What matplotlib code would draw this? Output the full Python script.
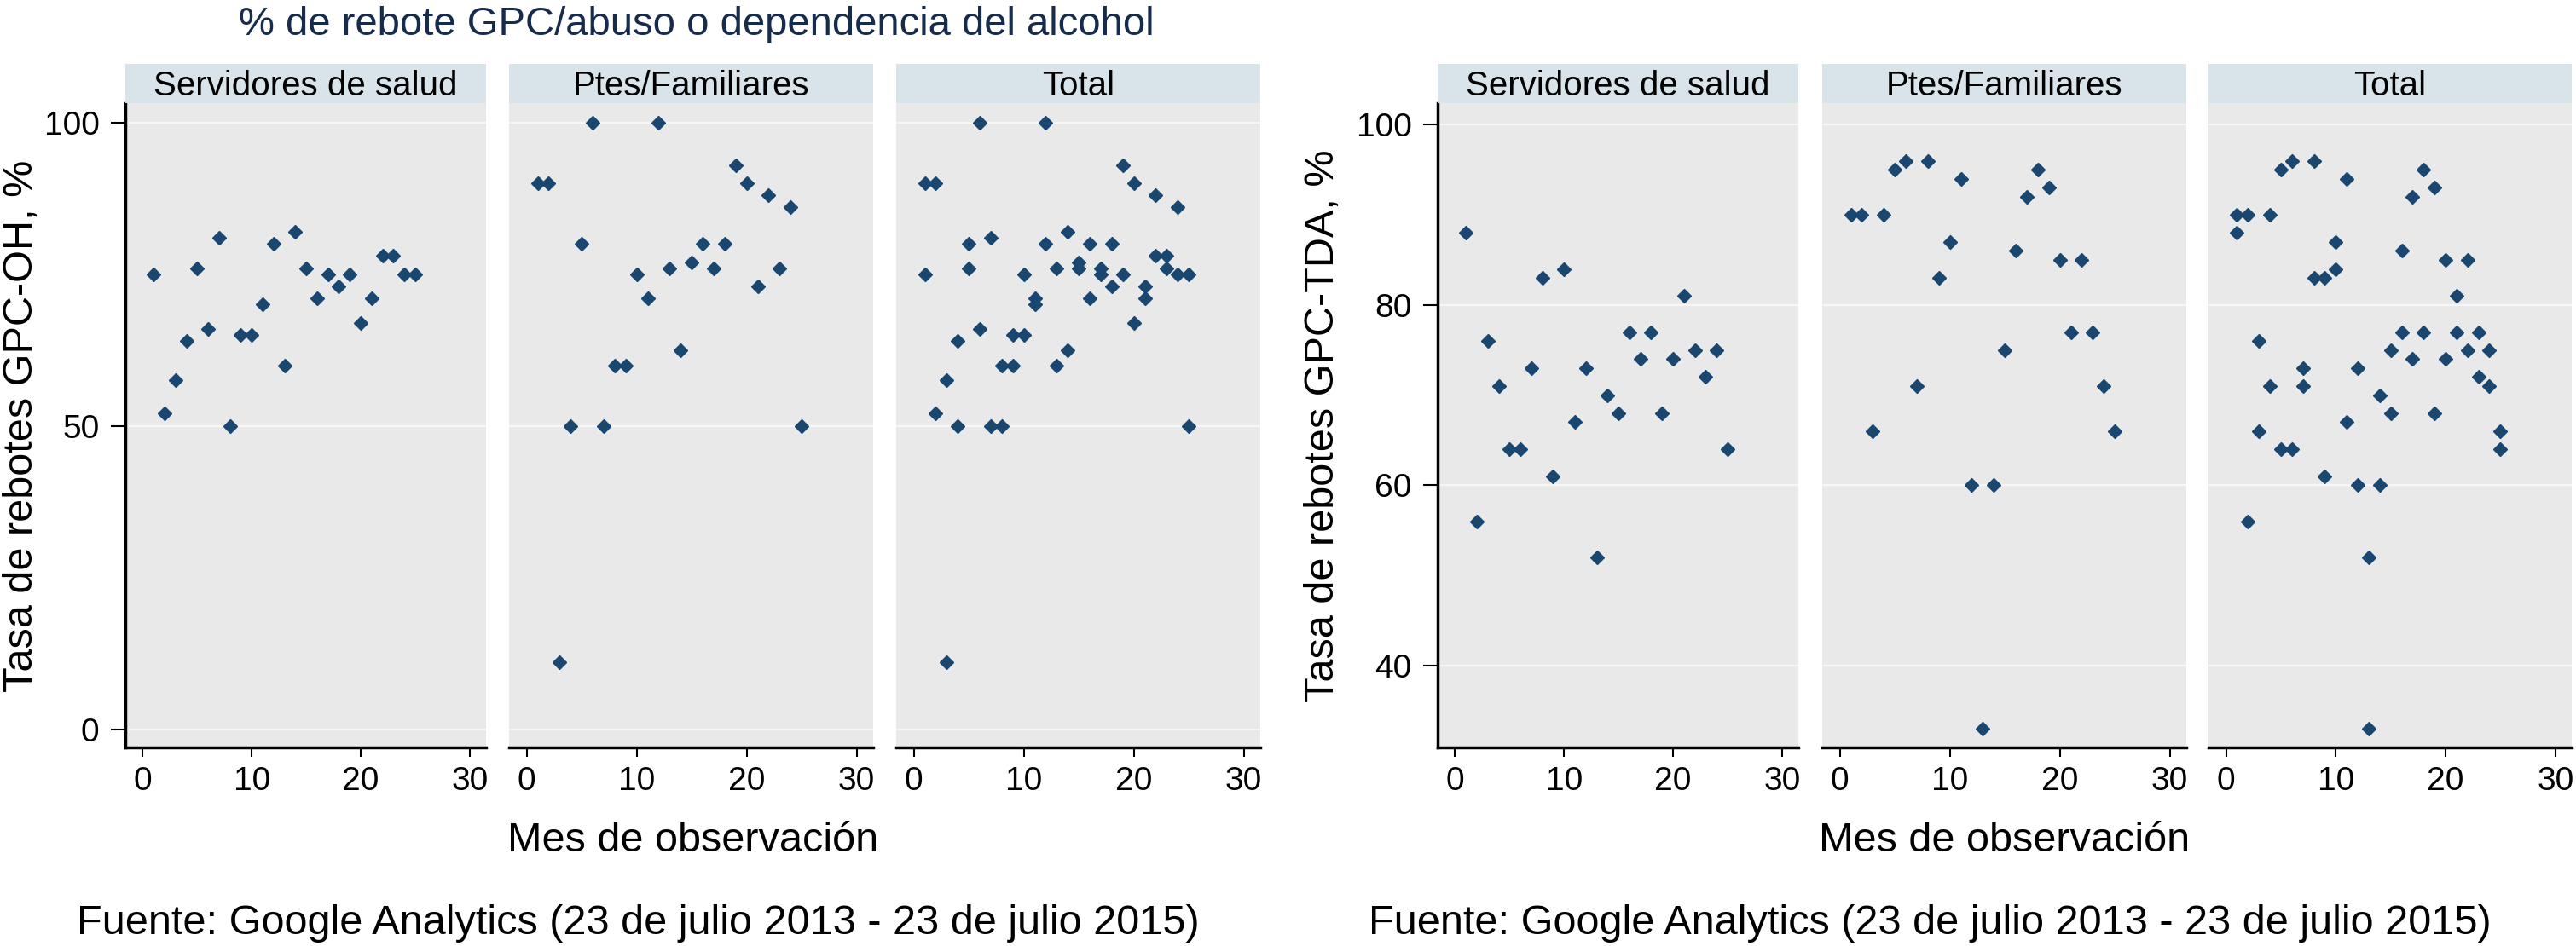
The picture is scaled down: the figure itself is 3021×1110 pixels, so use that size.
import matplotlib
matplotlib.use('Agg')
from matplotlib import pyplot as plt

plt.rcParams['font.family'] = ['Liberation Sans', 'DejaVu Sans']

# mes de observacion (1..25)
meses = [1, 2, 3, 4, 5, 6, 7, 8, 9, 10, 11, 12, 13, 14, 15, 16, 17, 18, 19, 20, 21, 22, 23, 24, 25]

# tasa de rebote GPC-OH, %
oh_servidores = [75, 52, 57.5, 64, 76, 66, 81, 50, 65, 65, 70, 80, 60, 82, 76, 71, 75, 73, 75, 67, 71, 78, 78, 75, 75]
oh_pacientes = [90, 90, 11, 50, 80, 100, 50, 60, 60, 75, 71, 100, 76, 62.5, 77, 80, 76, 80, 93, 90, 73, 88, 76, 86, 50]

# tasa de rebote GPC-TDA, %
tda_servidores = [88, 56, 76, 71, 64, 64, 73, 83, 61, 84, 67, 73, 52, 70, 68, 77, 74, 77, 68, 74, 81, 75, 72, 75, 64]
tda_pacientes = [90, 90, 66, 90, 95, 96, 71, 96, 83, 87, 94, 60, 33, 60, 75, 86, 92, 95, 93, 85, 77, 85, 77, 71, 66]

paneles = ['Servidores de salud', 'Ptes/Familiares', 'Total']
xticks = [0, 10, 20, 30]
fuente = 'Fuente: Google Analytics (23 de julio 2013 - 23 de julio 2015)'

azul = '#1a476f'
fondo = '#e9e9e9'
franja = '#d8e4ea'

W, H = 3021, 1110
fig = plt.figure(figsize=(W / 100, H / 100), dpi=100)


def box(x0, y0, x1, y1):
    # pixeles (origen arriba-izq) -> fraccion de figura
    return [x0 / W, 1 - y1 / H, (x1 - x0) / W, (y1 - y0) / H]


def panel(x0, x1, xs, ys, titulo, ylim, yticks, primero):
    ax = fig.add_axes(box(x0, 121, x1, 877))
    ax.set_facecolor(fondo)
    ax.plot(xs, ys, 'D', ms=8, color=azul, mec=azul, ls='none', zorder=3)
    ax.set_xlim(-1.6, 31.5)
    ax.set_ylim(*ylim)
    ax.set_xticks(xticks)
    ax.set_yticks(yticks)
    ax.yaxis.grid(True, color='#f6f6f6', lw=1.6)
    ax.set_axisbelow(True)
    for s in ['top', 'right']:
        ax.spines[s].set_visible(False)
    ax.spines['bottom'].set_linewidth(2.5)
    ax.spines['left'].set_linewidth(2.5)
    ax.tick_params(axis='x', direction='out', length=8, width=1.5, labelsize=28, pad=8)
    ax.tick_params(axis='y', direction='out', length=12, width=1.5, labelsize=28, pad=10)
    if not primero:
        ax.spines['left'].set_visible(False)
        ax.tick_params(axis='y', left=False, labelleft=False)

    st = fig.add_axes(box(x0, 75, x1, 121))
    st.set_facecolor(franja)
    st.set_xticks([])
    st.set_yticks([])
    for s in st.spines.values():
        s.set_visible(False)
    st.text(0.5, 9 / 46, titulo, ha='center', va='baseline', fontsize=29, transform=st.transAxes)
    return ax


def grafico(x_paneles, serv, ptes, ylim, yticks, ylabel, x_ylabel, x_fuente):
    total_x = meses + meses
    total_y = serv + ptes
    datos = [(meses, serv), (meses, ptes), (total_x, total_y)]
    for i in range(3):
        x0, x1 = x_paneles[i]
        panel(x0, x1, datos[i][0], datos[i][1], paneles[i], ylim, yticks, i == 0)

    centro = (x_paneles[0][0] + x_paneles[2][1]) / 2
    fig.text(centro / W, 1 - 999 / H, 'Mes de observación', ha='center', va='baseline', fontsize=35)
    fig.text(x_ylabel / W, 1 - 500 / H, ylabel, rotation=90, ha='center', va='center', fontsize=35)
    fig.text(x_fuente / W, 1 - 1096 / H, fuente, ha='left', va='baseline', fontsize=35)


grafico([(147, 570), (597, 1024), (1051, 1478)], oh_servidores, oh_pacientes,
        (-3, 103.2), [0, 50, 100], 'Tasa de rebotes GPC-OH, %', 26, 90)
grafico([(1686, 2109), (2137, 2564), (2590, 3016)], tda_servidores, tda_pacientes,
        (30.9, 102.4), [40, 60, 80, 100], 'Tasa de rebotes GPC-TDA, %', 1552, 1605)

fig.text(817 / W, 1 - 41 / H, '% de rebote GPC/abuso o dependencia del alcohol',
         ha='center', va='baseline', fontsize=34, color='#172b4d')

plt.savefig('out.png', dpi=100)
